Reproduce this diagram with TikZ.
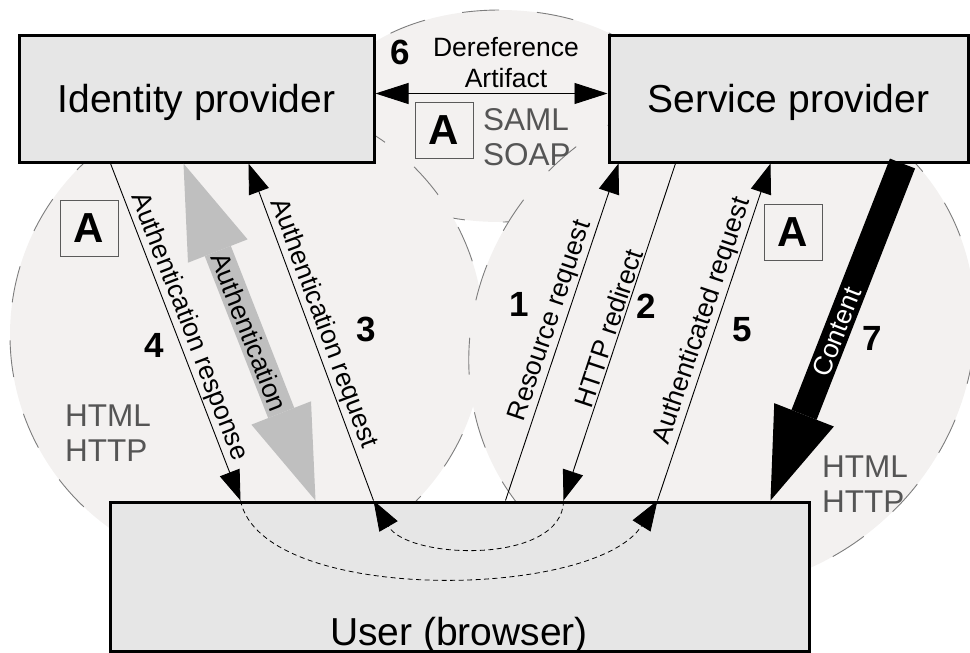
\documentclass[tikz,border=0pt]{standalone}
\usepackage{fontspec}
\setmainfont{Liberation Sans}
\usetikzlibrary{arrows.meta,calc}

\definecolor{blobfill}{RGB}{243,241,240}
\definecolor{blobline}{RGB}{125,125,125}
\definecolor{boxfill}{RGB}{230,230,230}
\definecolor{aline}{RGB}{90,90,90}
\definecolor{protogray}{RGB}{85,85,85}
\definecolor{authgray}{RGB}{191,191,191}

\tikzset{bigtip/.tip={Triangle[length=94pt,width=64pt,line width=0pt]}}

\begin{document}
\begin{tikzpicture}[x=1pt, y=-1pt,
  zone/.style={fill=blobfill, draw=blobline, line width=0.9pt, dash pattern=on 37pt off 38pt},
  party/.style={draw=black, line width=3pt, fill=boxfill, inner sep=0pt,
    font=\fontsize{39}{45}\selectfont, text height=28pt, text depth=0pt},
  abox/.style={draw=aline, line width=1pt, minimum width=58pt, minimum height=56pt,
    inner sep=0pt, font=\bfseries\fontsize{42}{48}\selectfont},
  stepno/.style={font=\bfseries\fontsize{35}{40}\selectfont, inner sep=0pt},
  proto/.style={text=protogray, font=\fontsize{31.5}{35}\selectfont, align=left,
    inner sep=0pt, anchor=south west},
  conn/.style={line width=0.9pt, -{Triangle[length=30pt,width=21pt]}},
  flow/.style={line width=0.8pt, dash pattern=on 5pt off 3.5pt,
    -{Triangle[length=30pt,width=21pt]}},
  lab/.style={font=\fontsize{26.5}{31}\selectfont, sloped, above, inner sep=1.5pt}
]
\useasboundingbox (0,0) rectangle (970,653);

% protocol zones behind the parties
\path[zone] (500,116) ellipse [x radius=175pt, y radius=106pt];
\path[zone] (247,335) circle [radius=237pt];
\path[zone, rotate around={42:(722,340)}] (722,340) ellipse [x radius=262pt, y radius=242pt];

% parties
\node[party, minimum width=355pt, minimum height=127pt] (idp) at (196.5,98.5) {Identity provider};
\node[party, minimum width=359pt, minimum height=127pt] (sp) at (788.5,98.5) {Service provider};
\node[party, minimum width=699.5pt, minimum height=149pt] (user) at (459.75,576.5) {};
\node[font=\fontsize{39}{45}\selectfont, anchor=base, inner sep=0pt] (usertext) at (459,645) {User (browser)};

% attachment points on the box edges
\coordinate (idpResp) at ([xshift=93pt]idp.south west);
\coordinate (idpAuth) at ([xshift=166pt]idp.south west);
\coordinate (idpReq)  at ([xshift=231pt]idp.south west);
\coordinate (spRes)   at ([xshift=11pt]sp.south west);
\coordinate (spRedir) at ([xshift=68pt]sp.south west);
\coordinate (spAuthd) at ([xshift=163pt]sp.south west);
\coordinate (spCont)  at ([xshift=295pt]sp.south west);
\coordinate (uResp)   at ([xshift=132pt]user.north west);
\coordinate (uAuth)   at ([xshift=207pt]user.north west);
\coordinate (uReq)    at ([xshift=265pt]user.north west);
\coordinate (uRes)    at ([xshift=397pt]user.north west);
\coordinate (uRedir)  at ([xshift=455pt]user.north west);
\coordinate (uAuthd)  at ([xshift=549pt]user.north west);
\coordinate (uCont)   at ([xshift=662pt]user.north west);

% step 6: artifact resolution
\draw[line width=0.9pt, {Triangle[length=33pt,width=21pt]}-{Triangle[length=33pt,width=21pt]}]
  ([yshift=5pt]idp.east) -- ([yshift=5pt]sp.west);
\node[font=\fontsize{26.5}{31}\selectfont, align=center, anchor=south, inner sep=0pt]
  (deref) at (506,88) {Dereference\\Artifact};

% browser flows
\draw[conn] (uRes) -- node[lab, pos=0.52] (lres) {Resource request} (spRes);
\draw[conn] (spRedir) -- node[lab, pos=0.5] (lredir) {HTTP redirect} (uRedir);
\draw[conn] (uReq) -- node[lab, pos=0.51] (lreq) {Authentication request} (idpReq);
\draw[conn] (idpResp) -- node[lab, pos=0.5] (lresp) {Authentication response} (uResp);
\draw[conn] (uAuthd) -- node[lab, pos=0.52] (lauthd) {Authenticated request} (spAuthd);

% user authentication at the identity provider
\draw[draw=authgray, line width=28pt, {bigtip}-{bigtip}] (idpAuth) --
  node[sloped, font=\fontsize{26.5}{31}\selectfont, inner sep=0pt] (lauth) {Authentication} (uAuth);

% delivered content
\draw[draw=black, line width=27pt, -{Triangle[length=92pt,width=64pt,line width=0pt]}] (spCont) --
  node[sloped, text=white, font=\fontsize{26.5}{31}\selectfont, inner sep=0pt] (lcont) {Content} (uCont);

% redirects inside the browser
\draw[flow] (uRedir) .. controls (563,565) and (408,560) .. (uReq);
\draw[flow] (uResp) .. controls (262,605) and (595,600) .. (uAuthd);

% step numbers
\node[stepno] (n1) at (519,304) {1};
\node[stepno] (n2) at (646,306) {2};
\node[stepno] (n3) at (366,329) {3};
\node[stepno] (n4) at (154,345) {4};
\node[stepno] (n5) at (742,330) {5};
\node[stepno] (n6) at (400,52) {6};
\node[stepno] (n7) at (872,338) {7};

% assertion markers
\node[abox] (aTop) at (444,130) {A};
\node[abox] (aLeft) at (89,228.5) {A};
\node[abox] (aRight) at (793,232) {A};

% protocol bindings
\node[proto] (pSoap) at (483,166) {SAML\\SOAP};
\node[proto] (pLeft) at (65,462) {HTML\\HTTP};
\node[proto] (pRight) at (822,513) {HTML\\HTTP};
\end{tikzpicture}
\end{document}
